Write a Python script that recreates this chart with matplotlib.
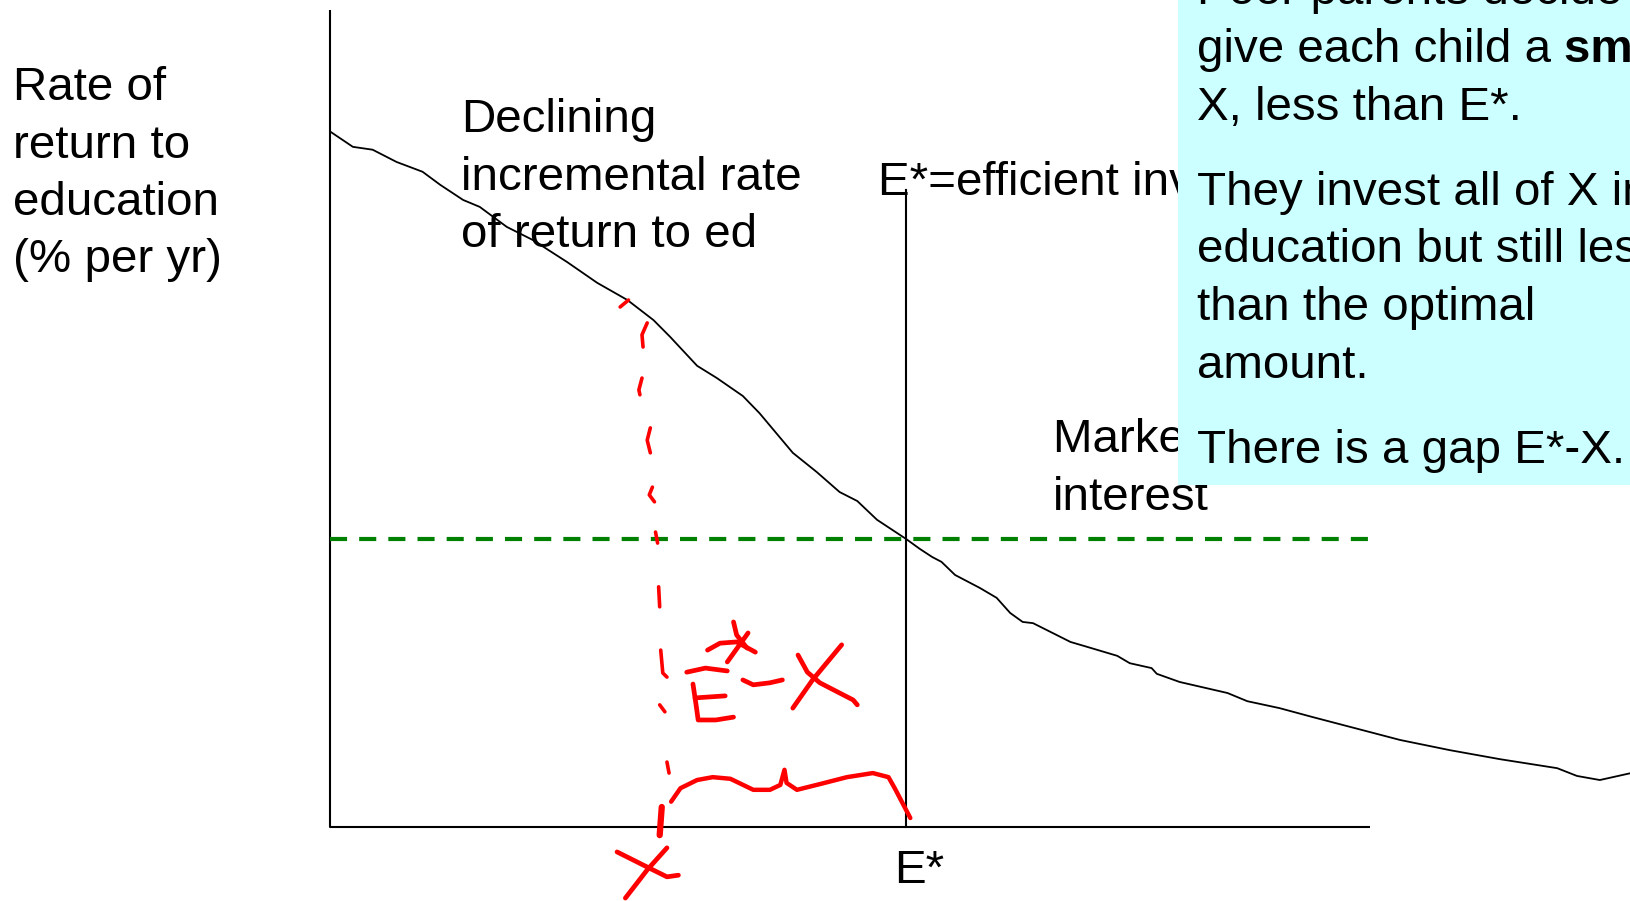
import matplotlib
matplotlib.use("Agg")
import matplotlib.pyplot as plt
from matplotlib.patches import Rectangle

W, H, DPI = 1631, 901, 100
plt.rcParams["font.family"] = ["Liberation Sans", "DejaVu Sans"]
FS = 34.2

# Education investment (x) and incremental rate of return (% per yr)
educ = [0.01, 0.22, 0.41, 0.64, 0.89, 1.06, 1.28, 1.44, 1.70, 1.95, 2.28, 2.57,
        2.86, 3.11, 3.27, 3.53, 3.72, 3.97, 4.13, 4.45, 4.68, 4.90, 5.07, 5.26,
        5.54, 5.67, 5.79, 5.88, 6.01, 6.25, 6.41, 6.54, 6.66, 6.76, 7.12, 7.28,
        7.57, 7.69, 7.90, 7.95, 8.17, 8.63, 8.82, 9.13, 9.45, 9.81, 10.29, 10.77,
        11.25, 11.80, 11.99, 12.21, 12.51]
rate = [17.01, 16.65, 16.58, 16.28, 16.04, 15.72, 15.35, 15.18, 14.69, 14.37,
        13.83, 13.32, 12.90, 12.41, 12.00, 11.29, 10.99, 10.55, 10.13, 9.16, 8.69,
        8.20, 7.98, 7.52, 7.05, 6.81, 6.61, 6.49, 6.17, 5.85, 5.61, 5.24, 5.02,
        4.99, 4.53, 4.41, 4.19, 4.01, 3.89, 3.75, 3.55, 3.28, 3.08, 2.91, 2.69,
        2.45, 2.13, 1.88, 1.66, 1.44, 1.25, 1.15, 1.32]

market_rate = 7.05      # market interest rate
e_star = 5.54           # efficient investment E*
x_max = 10.0            # end of the education axis
y_max = 20.0            # top of the rate axis
e_star_top = 15.6       # top of the E* marker line

# Handwritten ink: dashed drop line from the curve down to X
ink_dashes = [
    ([2.79, 2.87], [12.73, 12.90]),
    ([3.05, 3.00, 3.01], [12.34, 12.05, 11.75]),
    ([3.00, 2.97, 2.98], [10.99, 10.70, 10.58]),
    ([3.08, 3.05, 3.08], [9.77, 9.47, 9.16]),
    ([3.10, 3.07, 3.12], [8.32, 8.13, 7.96]),
    ([3.13, 3.15], [7.22, 6.95]),
    ([3.16, 3.17], [5.88, 5.39]),
    ([3.18, 3.20, 3.24], [4.33, 3.77, 3.67]),
    ([3.17, 3.22], [2.99, 2.82]),
    ([3.24, 3.26], [1.59, 1.32]),
]
ink_dot = ([3.19, 3.17], [0.49, -0.20])

# Handwritten brace spanning X .. E*
brace_x = [3.28, 3.37, 3.53, 3.68, 3.85, 4.07, 4.23, 4.33, 4.37, 4.39, 4.49,
           4.71, 4.97, 5.22, 5.37, 5.43, 5.58]
brace_y = [0.62, 0.95, 1.15, 1.22, 1.18, 0.91, 0.91, 1.03, 1.40, 1.08, 0.91,
           1.05, 1.22, 1.32, 1.22, 0.95, 0.22]

# Handwritten "E*-X" above the brace
gap_label_strokes = [
    ([3.43, 3.61, 3.82], [3.79, 3.89, 3.82]),                 # E top bar
    ([3.49, 3.52, 3.54, 3.71, 3.88], [3.50, 2.99, 2.62, 2.62, 2.69]),  # E stem + foot
    ([3.51, 3.80], [3.16, 3.21]),                             # E middle bar
    ([3.63, 3.75, 3.91, 4.09], [4.33, 4.50, 4.53, 4.28]),     # star
    ([3.88, 3.91, 4.01], [5.02, 4.70, 4.38]),
    ([4.02, 3.82], [4.75, 4.04]),
    ([3.97, 4.07, 4.23, 4.35], [3.60, 3.48, 3.53, 3.60]),     # minus
    ([4.92, 4.64, 4.45], [4.46, 3.60, 2.91]),                 # X
    ([4.50, 4.59, 4.71, 5.03, 5.07], [4.21, 3.79, 3.53, 3.11, 2.99]),
]

# Handwritten "X" under the axis
x_label_strokes = [
    ([2.76, 3.05, 3.24, 3.35], [-0.61, -0.98, -1.22, -1.18]),
    ([3.24, 3.05, 2.84], [-0.51, -1.05, -1.74]),
]

fig = plt.figure(figsize=(W / DPI, H / DPI), dpi=DPI)
ax = fig.add_axes([0, 0, 1, 1])
ax.set_xlim(-330 / 104, (W - 330) / 104)
ax.set_ylim(-(H - 827) / 40.85, 827 / 40.85)
ax.axis("off")

# Axes drawn as plain lines
ax.plot([0, 0, x_max], [y_max, 0, 0], color="black", lw=1.5, solid_capstyle="butt", zorder=2)
ax.plot([e_star, e_star], [0, e_star_top], color="black", lw=1.5, zorder=2)
ax.plot([0, x_max], [market_rate, market_rate], color="green", lw=3.0,
        dashes=(4.1, 2.9), zorder=2)
ax.plot(educ, rate, color="black", lw=1.3, zorder=2)

red = "#ff0000"
for xs, ys in ink_dashes:
    ax.plot(xs, ys, color=red, lw=2.6, solid_capstyle="round", zorder=3)
ax.plot(*ink_dot, color=red, lw=4.5, solid_capstyle="round", zorder=3)
ax.plot(brace_x, brace_y, color=red, lw=3.2, solid_capstyle="round",
        solid_joinstyle="round", zorder=3)
for xs, ys in gap_label_strokes + x_label_strokes:
    ax.plot(xs, ys, color=red, lw=3.4, solid_capstyle="round",
            solid_joinstyle="round", zorder=3)


def put_lines(x_px, y0_px, lines, pitch=57.5, z=3, **kw):
    objs = []
    for i, s in enumerate(lines):
        objs.append(ax.text(x_px / W, 1 - (y0_px + i * pitch) / H, s,
                            transform=fig.transFigure, va="baseline", ha="left",
                            fontsize=FS, zorder=z, **kw))
    return objs


put_lines(13, 100, ["Rate of", "return to", "education", "(% per yr)"])
put_lines(461, 132, ["Declining", "incremental rate", "of return to ed"])
put_lines(878, 195, ["E*=efficient investment"])
put_lines(1053, 452, ["Market rate of", "interest"])
put_lines(894, 883, ["E*"])

# Explanation panel
ax.add_patch(Rectangle((1178 / W, 1 - 485 / H), 1.0, 485 / H + 0.05,
                       transform=fig.transFigure, facecolor="#ccffff",
                       edgecolor="none", zorder=4))
put_lines(1197, 4.5, ["Poor parents decide to"], z=5)
gv = put_lines(1197, 62, ["give each child a"], z=5)[0]
put_lines(1197, 119.5, ["X, less than E*."], z=5)
put_lines(1197, 205, ["They invest all of X in", "education but still less",
                      "than the optimal", "amount."], z=5)
put_lines(1197, 463, ["There is a gap E*-X."], z=5)

renderer = fig.canvas.get_renderer()
bb = gv.get_window_extent(renderer)
space = ax.text(0, 0, "a a", fontsize=FS).get_window_extent(renderer).width - \
    2 * ax.text(0, 0, "a", fontsize=FS).get_window_extent(renderer).width
for t in ax.texts[-2:]:
    t.remove()
ax.text((bb.x1 + space) / W, 1 - 62 / H, "small amount", transform=fig.transFigure,
        va="baseline", ha="left", fontsize=FS, fontweight="bold", zorder=5)

fig.savefig("out.png", dpi=DPI)
